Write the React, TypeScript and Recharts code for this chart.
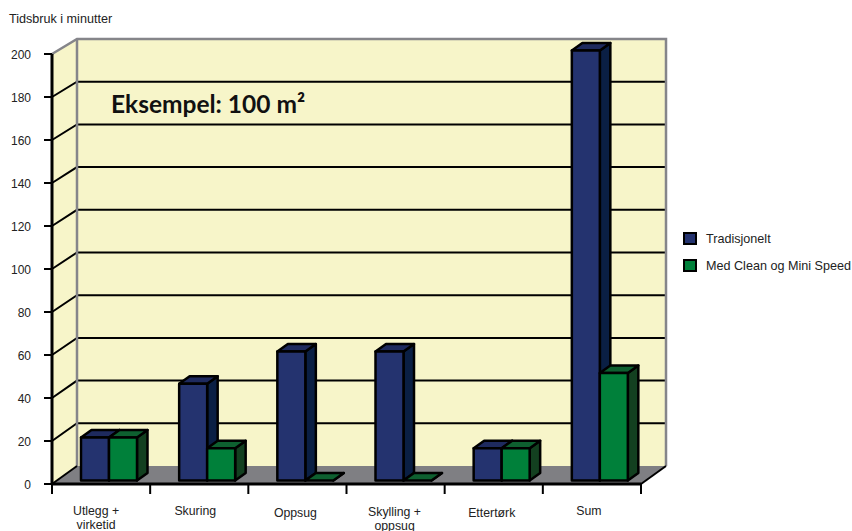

import React from 'react';
import { ComposedChart, Bar, XAxis, YAxis, CartesianGrid, Legend, usePlotArea } from 'recharts';

const categories = ['Utlegg +\nvirketid', 'Skuring', 'Oppsug', 'Skylling +\noppsug', 'Ettertørk', 'Sum'];
const tradisjonelt = [20, 45, 60, 60, 15, 200];
const medClean = [20, 15, 0, 0, 15, 50];
const yTicks = [0, 20, 40, 60, 80, 100, 120, 140, 160, 180, 200];
const labelNudgeX = [-5, -4, -2, -1, -2, -3];
const labelBaseline = [515, 515, 517, 516, 517, 515];

const data = categories.map((name, i) => ({ name, a: tradisjonelt[i], b: medClean[i] }));

const FONT = '"Liberation Sans", Arial, sans-serif';
const WALL_DX = 25;
const BAR_DX = 10.5;
const BAR_DY = 7.5;
const SHIFT_X = 8;
const SHIFT_Y = 3.5;

const BLUE = { front: '#24336f', side: '#0a1f44', top: '#1e2a5e' };
const GREEN = { front: '#00803a', side: '#134020', top: '#0e6030' };

const wallDy = (y: number, top: number, h: number) => 18 - (3 * (top + h - y)) / h;

function WallFill({ x, y, w, h }: any) {
  const b = y + h;
  const r = x + w;
  const topDy = wallDy(y, y, h);
  const botDy = wallDy(b, y, h);
  return (
    <g>
      <polygon points={`${x},${y} ${x + WALL_DX},${y - topDy} ${x + WALL_DX},${b - botDy} ${x},${b}`} fill="#f7f5c9" />
      <rect x={x + WALL_DX} y={y - topDy} width={w} height={h + topDy - botDy} fill="#f7f5c9" />
      <polygon points={`${x},${b} ${x + WALL_DX},${b - botDy} ${r + WALL_DX},${b - botDy} ${r},${b}`} fill="#7f7f83" />
    </g>
  );
}

function WallEdges() {
  const p = usePlotArea();
  if (!p) return null;
  const { x, y, width: w, height: h } = p;
  const b = y + h;
  const r = x + w;
  const topDy = wallDy(y, y, h);
  const botDy = wallDy(b, y, h);
  return (
    <g>
      <polyline
        points={`${x},${y} ${x + WALL_DX},${y - topDy} ${r + WALL_DX},${y - topDy} ${r + WALL_DX},${b - botDy}`}
        fill="none"
        stroke="#85858a"
        strokeWidth={2.5}
      />
      <line x1={x + WALL_DX} y1={y - topDy} x2={x + WALL_DX} y2={b - botDy} stroke="#85858a" strokeWidth={2.5} />
      <line x1={r} y1={b} x2={r + WALL_DX} y2={b - botDy} stroke="#000" strokeWidth={2} />
      <line x1={x} y1={b} x2={x + WALL_DX} y2={b - botDy} stroke="#000" strokeWidth={2} />
    </g>
  );
}

function GridLine(props: any) {
  const { x1, x2, y1, index } = props;
  const p = usePlotArea();
  if (!p) return null;
  const { x, y: top, width: w, height: h } = p;
  const isEdge = Math.abs(y1 - top) < 1 || Math.abs(y1 - (top + h)) < 1;
  const dy = wallDy(y1, top, h);
  return (
    <g>
      {index === 0 && <WallFill x={x} y={top} w={w} h={h} />}
      {!isEdge && (
        <polyline
          points={`${x1},${y1} ${x1 + WALL_DX},${y1 - dy} ${x2 + WALL_DX - 1},${y1 - dy}`}
          fill="none"
          stroke="#000"
          strokeWidth={2}
        />
      )}
    </g>
  );
}

const makeBar = (c: { front: string; side: string; top: string }) => (props: any) => {
  const x = props.x + SHIFT_X;
  const y = props.y - SHIFT_Y;
  const w = props.width;
  const h = props.height;
  return (
    <g stroke="#000" strokeWidth={2.5} strokeLinejoin="round">
      <polygon
        points={`${x + w},${y} ${x + w + BAR_DX},${y - BAR_DY} ${x + w + BAR_DX},${y + h - BAR_DY} ${x + w},${y + h}`}
        fill={c.side}
      />
      <polygon
        points={`${x},${y} ${x + BAR_DX},${y - BAR_DY} ${x + w + BAR_DX},${y - BAR_DY} ${x + w},${y}`}
        fill={c.top}
      />
      {h > 0 && <rect x={x} y={y} width={w} height={h} fill={c.front} />}
    </g>
  );
};

const BAND = 589 / categories.length;

function XTick(props: any) {
  const { x, y, payload } = props;
  const i = payload.index;
  const lines = String(payload.value).split('\n');
  return (
    <g>
      <line x1={x - BAND / 2} y1={y} x2={x - BAND / 2} y2={y + 10} stroke="#000" strokeWidth={2} />
      {i === categories.length - 1 && (
        <line x1={x + BAND / 2} y1={y} x2={x + BAND / 2} y2={y + 10} stroke="#000" strokeWidth={2} />
      )}
      <text x={x + labelNudgeX[i]} y={labelBaseline[i]} textAnchor="middle" fontFamily={FONT} fontSize={12.3} fill="#222">
        {lines.map((l: string, k: number) => (
          <tspan key={k} x={x + labelNudgeX[i]} dy={k === 0 ? 0 : 14}>
            {l}
          </tspan>
        ))}
      </text>
    </g>
  );
}

function LegendBox(props: any) {
  const items = props.payload || [];
  return (
    <div style={{ fontFamily: FONT, fontSize: 12.6, color: '#222' }}>
      {items.map((it: any) => (
        <div key={it.value} style={{ display: 'flex', alignItems: 'center', height: 27, whiteSpace: 'nowrap' }}>
          <span
            style={{
              display: 'inline-block',
              boxSizing: 'border-box',
              width: 14,
              height: 13,
              background: it.color,
              border: '2px solid #000',
              marginRight: 9,
            }}
          />
          {it.value}
        </div>
      ))}
    </div>
  );
}

export default function App() {
  return (
    <div style={{ position: 'absolute', left: 0, top: 0, width: 852, height: 531, overflow: 'hidden', background: '#fff' }}>
      <ComposedChart
        width={852}
        height={531}
        data={data}
        margin={{ top: 54, right: 211, bottom: 0, left: 0 }}
        barCategoryGap={21}
        barGap={0}
      >
        <CartesianGrid vertical={false} horizontal={(p: any) => <GridLine {...p} />} />
        <XAxis
          dataKey="name"
          height={47}
          interval={0}
          tickLine={false}
          tickSize={0}
          tickMargin={0}
          tick={<XTick />}
          axisLine={{ stroke: '#000', strokeWidth: 3 }}
        />
        <YAxis
          width={52}
          domain={[0, 200]}
          ticks={yTicks}
          interval={0}
          tickSize={8}
          tickMargin={13}
          tick={{ fontFamily: FONT, fontSize: 12, fill: '#222', dy: 1 }}
          tickLine={{ stroke: '#000', strokeWidth: 2 }}
          axisLine={{ stroke: '#000', strokeWidth: 3 }}
        />
        <WallEdges />
        <Bar dataKey="a" name="Tradisjonelt" fill={BLUE.front} shape={makeBar(BLUE)} isAnimationActive={false} />
        <Bar dataKey="b" name="Med Clean og Mini Speed" fill={GREEN.front} shape={makeBar(GREEN)} isAnimationActive={false} />
        <Legend
          layout="horizontal"
          verticalAlign="middle"
          itemSorter={null}
          content={<LegendBox />}
          wrapperStyle={{ left: 683, top: 225, width: 169 }}
        />
        <text x={9} y={23} fontFamily={FONT} fontSize={12.6} fill="#222">
          Tidsbruk i minutter
        </text>
        <text x={111} y={113} fontFamily="Lato, sans-serif" fontWeight={700} fontSize={24.5} fill="#111">
          Eksempel: 100 m²
        </text>
      </ComposedChart>
    </div>
  );
}
